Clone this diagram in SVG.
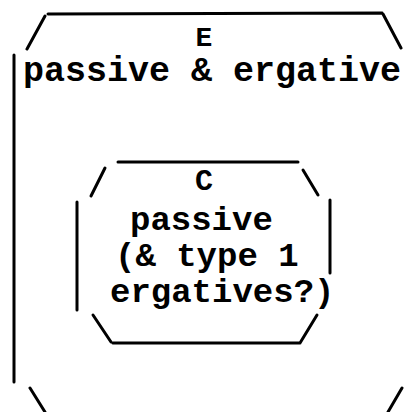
<svg xmlns="http://www.w3.org/2000/svg" width="412" height="412" viewBox="0 0 412 412">
<style>
.ln{fill:none;stroke:#000;stroke-width:3;stroke-linecap:round}
.t{font-family:"Liberation Mono","Courier New",monospace;font-weight:bold;fill:#000}
.big{font-size:35px}
.mid{font-size:34px}
</style>
<rect width="412" height="412" fill="#fff"/>
<g id="E">
<path class="ln" d="M48,14 L382,13 M45,16 L27,49 M383,14 L401,48 M14,55 L14,382 M30,388 L45,412 M402,388 L388,412"/>
<text class="t" font-size="28" x="204" y="46" text-anchor="middle">E</text>
<text class="t big" x="23" y="81">passive &amp; ergative</text>
</g>
<g id="C">
<path class="ln" d="M118,162 L298,162 M105,168 L91,196 M303,170 L318,195 M330,200 L330,273 M77,202 L77,310 M93,315 L111,342 M113,343 L300,343 M300,343 L317,315"/>
<text class="t" font-size="30" x="204" y="190" text-anchor="middle">C</text>
<text class="t mid" x="130" y="230">passive</text>
<text class="t mid" x="115" y="266">(&amp; type 1</text>
<text class="t mid" x="110" y="302">ergatives?)</text>
</g>
<g id="connectors"></g>
</svg>
